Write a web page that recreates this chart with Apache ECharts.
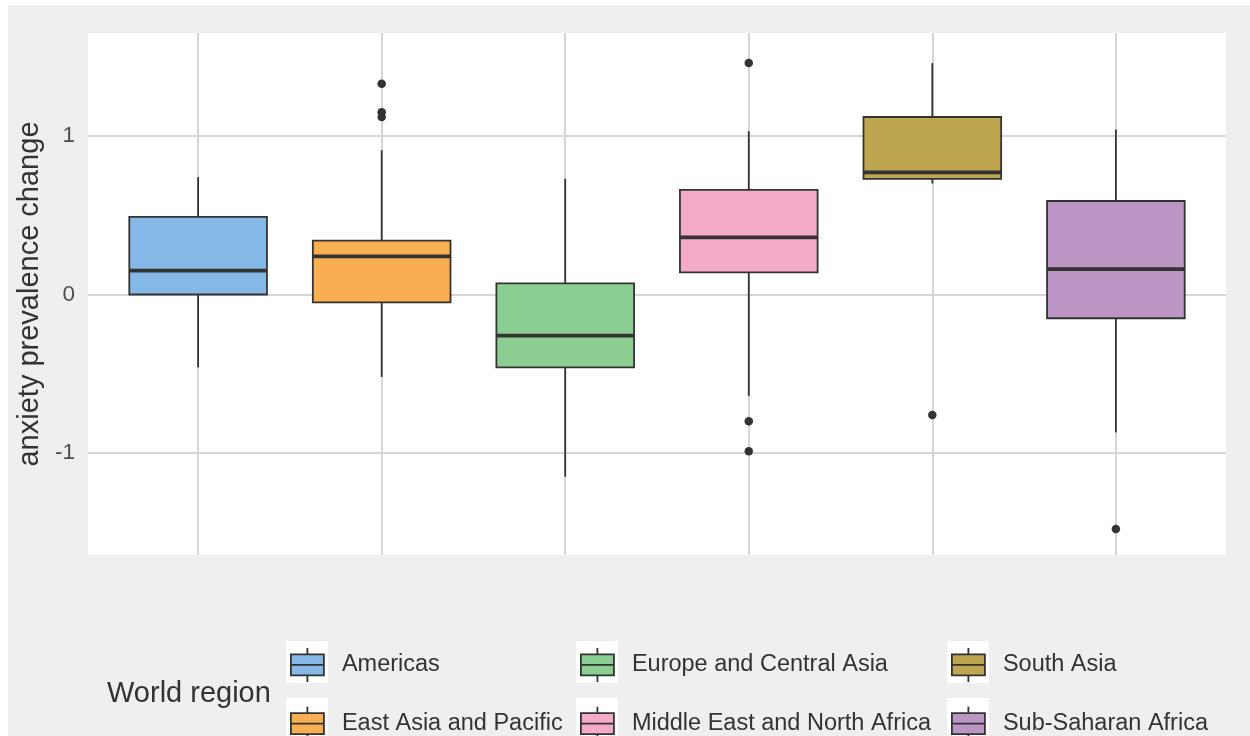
<!DOCTYPE html>
<html>
<head>
<meta charset="utf-8">
<script src="https://cdn.jsdelivr.net/npm/echarts@6/dist/echarts.min.js"></script>
<style>
  html, body { margin: 0; padding: 0; background: #ffffff; }
  #chart { width: 1250px; height: 736px; }
</style>
</head>
<body>
<div id="chart"></div>
<script>
// World regions (one box per region, in axis order)
const regions = [
  'Americas',
  'East Asia and Pacific',
  'Europe and Central Asia',
  'Middle East and North Africa',
  'South Asia',
  'Sub-Saharan Africa'
];

// Box statistics of the change in anxiety prevalence, per region
const lowerWhisker = [-0.46, -0.52, -1.15, -0.64, 0.70, -0.87];
const quartile1    = [ 0.00, -0.05, -0.46,  0.14, 0.73, -0.15];
const median       = [ 0.15,  0.24, -0.26,  0.36, 0.77,  0.16];
const quartile3    = [ 0.49,  0.34,  0.07,  0.66, 1.12,  0.59];
const upperWhisker = [ 0.74,  0.91,  0.73,  1.03, 1.46,  1.04];

// Points outside the whiskers, per region
const outliers = [
  [],
  [1.33, 1.15, 1.12],
  [],
  [1.46, -0.80, -0.99],
  [-0.76],
  [-1.48]
];

// Y axis tick labels
const yTicks = [-1, 0, 1];

const palette = ['#85B8E7', '#F9AE52', '#8ACE92', '#F4ABCA', '#BEA54F', '#BB95C3'];
const ink = '#333333';
const gridColor = '#d6d6d6';
const font = '"Liberation Sans", Arial, sans-serif';

// Box glyph used for the legend keys
const boxIcon = 'path://M0,6.5 L33,6.5 L33,27.5 L0,27.5 Z M0,17 L33,17 M16.5,0 L16.5,6.5 M16.5,27.5 L16.5,34';

function renderBox(params, api) {
  const x = api.value(0);
  const cx = api.coord([x, 0])[0];
  const yLo = api.coord([x, api.value(1)])[1];
  const yQ1 = api.coord([x, api.value(2)])[1];
  const yMed = api.coord([x, api.value(3)])[1];
  const yQ3 = api.coord([x, api.value(4)])[1];
  const yHi = api.coord([x, api.value(5)])[1];
  const half = api.size([0.75, 0])[0] / 2;
  return {
    type: 'group',
    children: [
      { type: 'line', shape: { x1: cx, y1: yHi, x2: cx, y2: yQ3 }, style: { stroke: ink, lineWidth: 1.8 } },
      { type: 'line', shape: { x1: cx, y1: yQ1, x2: cx, y2: yLo }, style: { stroke: ink, lineWidth: 1.8 } },
      { type: 'rect', shape: { x: cx - half, y: yQ3, width: 2 * half, height: yQ1 - yQ3 },
        style: { fill: api.visual('color'), stroke: ink, lineWidth: 1.8 } },
      { type: 'line', shape: { x1: cx - half, y1: yMed, x2: cx + half, y2: yMed }, style: { stroke: ink, lineWidth: 3.8 } }
    ]
  };
}

const boxSeries = regions.map((name, i) => ({
  type: 'custom',
  name: name,
  renderItem: renderBox,
  itemStyle: { color: palette[i] },
  encode: { x: 0, y: [1, 2, 3, 4, 5] },
  data: [[i + 1, lowerWhisker[i], quartile1[i], median[i], quartile3[i], upperWhisker[i]]],
  silent: true
}));

const outlierSeries = {
  type: 'scatter',
  name: 'outliers',
  symbol: 'circle',
  symbolSize: 8.5,
  itemStyle: { color: ink, opacity: 1 },
  data: outliers.flatMap((vals, i) => vals.map(v => [i + 1, v])),
  silent: true
};

// Legend: three columns of two keys, filled column by column
const legendColumns = [290, 580, 951];
const legends = legendColumns.map((left, c) => ({
  data: regions.slice(2 * c, 2 * c + 2),
  orient: 'vertical',
  left: left,
  top: 647,
  height: 140,
  padding: 0,
  itemWidth: 33,
  itemHeight: 34,
  itemGap: 23,
  icon: boxIcon,
  itemStyle: { borderColor: ink, borderWidth: 1.8 },
  textStyle: { fontSize: 23.5, color: ink, fontFamily: font, padding: [0, 0, 0, 13] },
  selectedMode: false
}));

// White squares behind each legend key
const keyBackgrounds = [];
[286, 576, 947].forEach(x => {
  [641, 698].forEach(y => {
    keyBackgrounds.push({
      type: 'rect', shape: { x: x, y: y, width: 42, height: 42 },
      style: { fill: '#ffffff' }, silent: true
    });
  });
});

const chart = echarts.init(document.getElementById('chart'), null, { renderer: 'canvas' });
chart.setOption({
  backgroundColor: '#efefef',
  animation: false,
  textStyle: { fontFamily: font },
  title: {
    text: 'World region',
    left: 107,
    top: 679,
    padding: 0,
    textStyle: { fontSize: 29, fontWeight: 'normal', color: ink, fontFamily: font }
  },
  graphic: [
    { type: 'rect', shape: { x: 0, y: 0, width: 1250, height: 5 }, style: { fill: '#ffffff' }, silent: true },
    { type: 'rect', shape: { x: 0, y: 0, width: 8, height: 736 }, style: { fill: '#ffffff' }, silent: true }
  ].concat(keyBackgrounds),
  grid: {
    left: 88, right: 24, top: 33, bottom: 181,
    show: true, backgroundColor: '#ffffff', borderWidth: 0
  },
  xAxis: {
    type: 'value',
    min: 0.4,
    max: 6.6,
    axisLine: { show: false },
    axisTick: { show: false, customValues: regions.map((_, i) => i + 1) },
    axisLabel: { show: false },
    splitLine: { show: true, lineStyle: { color: gridColor, width: 2 } }
  },
  yAxis: {
    type: 'value',
    min: -1.644,
    max: 1.650,
    axisLine: { show: false },
    axisTick: { show: false, customValues: yTicks },
    axisLabel: { customValues: yTicks, fontSize: 22.5, color: '#4d4d4d', margin: 13, fontFamily: font },
    splitLine: { show: true, lineStyle: { color: gridColor, width: 2 } },
    name: 'anxiety prevalence change',
    nameLocation: 'middle',
    nameRotate: 90,
    nameGap: 38,
    nameTextStyle: { fontSize: 29, color: ink, fontFamily: font }
  },
  legend: legends,
  series: boxSeries.concat([outlierSeries])
});
</script>
</body>
</html>
